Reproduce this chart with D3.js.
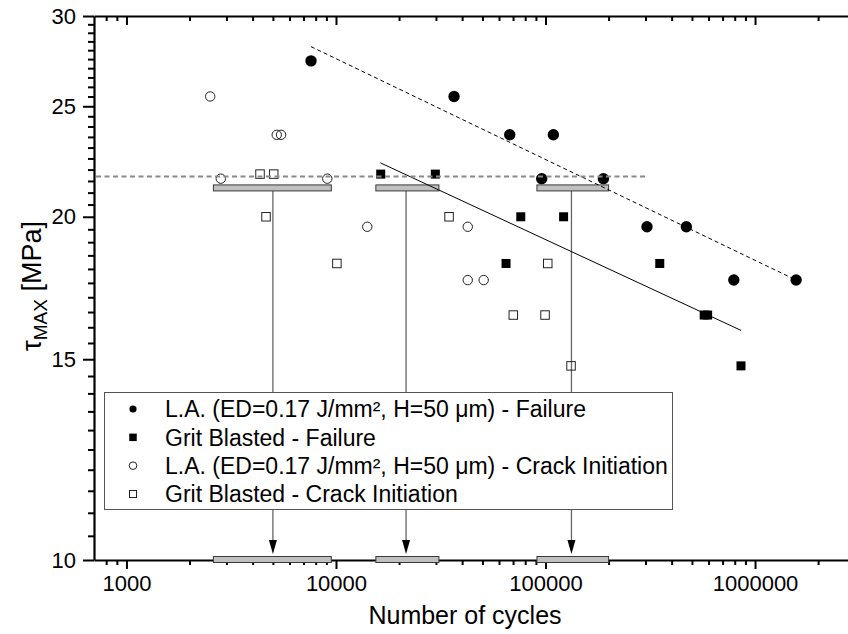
<!DOCTYPE html>
<html>
<head>
<meta charset="utf-8">
<script src="https://cdn.jsdelivr.net/npm/d3@7"></script>
<style>
  html, body { margin: 0; padding: 0; background: #fff; }
  svg { display: block; font-family: "Liberation Sans", Arial, sans-serif; }
</style>
</head>
<body>
<svg id="chart" width="848" height="634"></svg>
<script>
// Shear stress vs. number of cycles, laser-ablated vs. grit-blasted specimens

// [cycles, tau_max MPa]
const laFailure = [[7600, 27.4], [36600, 25.5], [67500, 23.6], [109000, 23.6], [95900, 21.6],
                   [189000, 21.6], [305000, 19.6], [470000, 19.6], [792000, 17.6], [1571000, 17.6]];
const gbFailure = [[16350, 21.8], [29800, 21.8], [76200, 20.0], [122000, 20.0], [64800, 18.2],
                   [351000, 18.2], [572000, 16.4], [594000, 16.4], [857000, 14.8]];
const laCrack   = [[2510, 25.5], [2820, 21.6], [5215, 23.6], [5470, 23.6], [9090, 21.6],
                   [14100, 19.6], [42550, 19.6], [42550, 17.6], [50700, 17.6]];
const gbCrack   = [[4340, 21.8], [5045, 21.8], [4635, 20.0], [34650, 20.0], [10100, 18.2],
                   [102500, 18.2], [70200, 16.4], [99500, 16.4], [132400, 14.8]];

// Power-law fits (straight on log-log axes), endpoints
const laFit = [[7600, 28.2], [1570000, 17.6]];
const gbFit = [[16300, 22.3], [857000, 15.9]];

// Reference stress level and cycle ranges at that level
const refLevel = 21.7;
const refSpan = [700, 300000];
const rangeLevel = 21.2;
const cycleRanges = [[2600, 9500], [15500, 31000], [91000, 200000]];
const rangeMarks = [5000, 21600, 133000];

// Axis ticks
const xMajor = [1000, 10000, 100000, 1000000];
const xMinor = [800, 900].concat(
  ...[1000, 10000, 100000, 1000000].map(b => d3.range(2, 10).map(k => k * b)));
const yMajor = [10, 15, 20, 25, 30];
const yMinor = d3.range(10.5, 30, 0.5).filter(v => v % 5 !== 0);

const legendItems = [
  { label: "L.A. (ED=0.17 J/mm², H=50 μm) - Failure", shape: "circle", filled: true },
  { label: "Grit Blasted - Failure", shape: "square", filled: true },
  { label: "L.A. (ED=0.17 J/mm², H=50 μm) - Crack Initiation", shape: "circle", filled: false },
  { label: "Grit Blasted - Crack Initiation", shape: "square", filled: false }
];

const svg = d3.select("#chart");
const plotL = 94, plotR = 855, plotT = 16, plotB = 560;

const x = d3.scaleLog().domain([700, 3e6]).range([plotL, plotR]);
const y = d3.scaleLog().domain([10, 30]).range([plotB, plotT]);

// ----- axes -----
function styleAxis(g) {
  g.selectAll(".tick line").attr("stroke", "#000").attr("stroke-width", 2);
  g.selectAll("text").attr("fill", "#000");
}

// bottom
svg.append("g").attr("transform", `translate(0,${plotB})`)
  .call(d3.axisBottom(x).tickValues(xMinor).tickSize(5).tickSizeOuter(0).tickFormat(""))
  .call(g => g.select(".domain").remove())
  .call(styleAxis);
svg.append("g").attr("transform", `translate(0,${plotB})`)
  .call(d3.axisBottom(x).tickValues(xMajor).tickSize(9).tickSizeOuter(0).tickPadding(6)
        .tickFormat(d3.format("d")))
  .call(g => g.select(".domain").attr("stroke", "#000").attr("stroke-width", 2.2))
  .call(styleAxis)
  .call(g => g.selectAll("text").attr("font-size", 22).attr("font-family", "Liberation Sans, Arial, sans-serif"));

// top (ticks pointing inward)
svg.append("g").attr("transform", `translate(0,${plotT})`)
  .call(d3.axisBottom(x).tickValues(xMinor).tickSize(5).tickSizeOuter(0).tickFormat(""))
  .call(g => g.select(".domain").remove())
  .call(styleAxis);
svg.append("g").attr("transform", `translate(0,${plotT})`)
  .call(d3.axisBottom(x).tickValues(xMajor).tickSize(9).tickSizeOuter(0).tickFormat(""))
  .call(g => g.select(".domain").attr("stroke", "#000").attr("stroke-width", 2.2))
  .call(styleAxis);

// left
svg.append("g").attr("transform", `translate(${plotL},0)`)
  .call(d3.axisLeft(y).tickValues(yMinor).tickSize(6).tickSizeOuter(0).tickFormat(""))
  .call(g => g.select(".domain").remove())
  .call(styleAxis);
svg.append("g").attr("transform", `translate(${plotL},0)`)
  .call(d3.axisLeft(y).tickValues(yMajor).tickSize(11).tickSizeOuter(0).tickPadding(7)
        .tickFormat(d3.format("d")))
  .call(g => g.select(".domain").attr("stroke", "#000").attr("stroke-width", 2.2))
  .call(styleAxis)
  .call(g => g.selectAll("text").attr("font-size", 22).attr("font-family", "Liberation Sans, Arial, sans-serif"));

// axis titles
svg.append("text")
  .attr("x", 465).attr("y", 624)
  .attr("text-anchor", "middle")
  .attr("font-size", 25)
  .text("Number of cycles");

const yTitle = svg.append("text")
  .attr("transform", "translate(41,286) rotate(-90)")
  .attr("text-anchor", "middle")
  .attr("font-size", 27);
yTitle.append("tspan").text("τ");
yTitle.append("tspan").attr("font-size", 19).attr("dy", 6).text("MAX");
yTitle.append("tspan").attr("dy", -6).text(" [MPa]");

// ----- cycle ranges at the reference level and on the axis -----
const plot = svg.append("g");
const barH = 6;

plot.selectAll("line.drop").data(rangeMarks).join("line")
  .attr("class", "drop")
  .attr("x1", d => x(d)).attr("x2", d => x(d))
  .attr("y1", y(rangeLevel) + barH / 2)
  .attr("y2", y(10) - 14)
  .attr("stroke", "#666").attr("stroke-width", 1.3);

plot.selectAll("path.head").data(rangeMarks).join("path")
  .attr("class", "head")
  .attr("d", d => `M${x(d) - 4},${y(10) - 20} L${x(d) + 4},${y(10) - 20} L${x(d)},${y(10) - 6} Z`)
  .attr("fill", "#000");

plot.selectAll("rect.rng-top").data(cycleRanges).join("rect")
  .attr("class", "rng-top")
  .attr("x", d => x(d[0])).attr("width", d => x(d[1]) - x(d[0]))
  .attr("y", y(rangeLevel) - barH / 2).attr("height", barH)
  .attr("fill", "#c0c0c0").attr("stroke", "#3a3a3a").attr("stroke-width", 1);

plot.selectAll("rect.rng-bot").data(cycleRanges).join("rect")
  .attr("class", "rng-bot")
  .attr("x", d => x(d[0])).attr("width", d => x(d[1]) - x(d[0]))
  .attr("y", y(10) - 3.5).attr("height", barH)
  .attr("fill", "#c0c0c0").attr("stroke", "#3a3a3a").attr("stroke-width", 1);

// ----- markers -----
const symCircle = (g, data, r, filled) =>
  g.selectAll(null).data(data).join("circle")
    .attr("cx", d => x(d[0])).attr("cy", d => y(d[1])).attr("r", r)
    .attr("fill", filled ? "#000" : "none")
    .attr("stroke", filled ? "none" : "#222").attr("stroke-width", 1);

const symSquare = (g, data, s, filled) =>
  g.selectAll(null).data(data).join("rect")
    .attr("x", d => x(d[0]) - s / 2).attr("y", d => y(d[1]) - s / 2)
    .attr("width", s).attr("height", s)
    .attr("fill", filled ? "#000" : "none")
    .attr("stroke", filled ? "none" : "#222").attr("stroke-width", 1);

symCircle(plot.append("g"), laCrack, 4.7, false);
symSquare(plot.append("g"), gbCrack, 8.5, false);
symCircle(plot.append("g"), laFailure, 5.7, true);
symSquare(plot.append("g"), gbFailure, 9, true);

// ----- fit lines -----
const line = d3.line().x(d => x(d[0])).y(d => y(d[1]));
plot.append("path").datum(laFit).attr("d", line)
  .attr("fill", "none").attr("stroke", "#000").attr("stroke-width", 1)
  .attr("stroke-dasharray", "4,3");
plot.append("path").datum(gbFit).attr("d", line)
  .attr("fill", "none").attr("stroke", "#000").attr("stroke-width", 1);

// reference stress level
plot.append("line")
  .attr("x1", x(refSpan[0]) + 2).attr("x2", x(refSpan[1]))
  .attr("y1", y(refLevel)).attr("y2", y(refLevel))
  .attr("stroke", "#8a8a8a").attr("stroke-width", 2)
  .attr("stroke-dasharray", "5,3.5");

// ----- legend -----
const lg = svg.append("g");
lg.append("rect")
  .attr("x", 104.5).attr("y", 392.5).attr("width", 568).attr("height", 117)
  .attr("fill", "#fff").attr("stroke", "#555").attr("stroke-width", 1);

const rowY = d3.scalePoint().domain(d3.range(legendItems.length)).range([409, 494]);
legendItems.forEach((it, i) => {
  const cy = rowY(i);
  if (it.shape === "circle") {
    lg.append("circle").attr("cx", 133).attr("cy", cy).attr("r", it.filled ? 3.6 : 3.8)
      .attr("fill", it.filled ? "#000" : "none").attr("stroke", it.filled ? "none" : "#222");
  } else {
    const s = it.filled ? 7.5 : 7;
    lg.append("rect").attr("x", 133 - s / 2).attr("y", cy - s / 2).attr("width", s).attr("height", s)
      .attr("fill", it.filled ? "#000" : "none").attr("stroke", it.filled ? "none" : "#222");
  }
  lg.append("text").attr("x", 165).attr("y", cy).attr("dy", "0.36em")
    .attr("font-size", 23).text(it.label);
});
</script>
</body>
</html>
